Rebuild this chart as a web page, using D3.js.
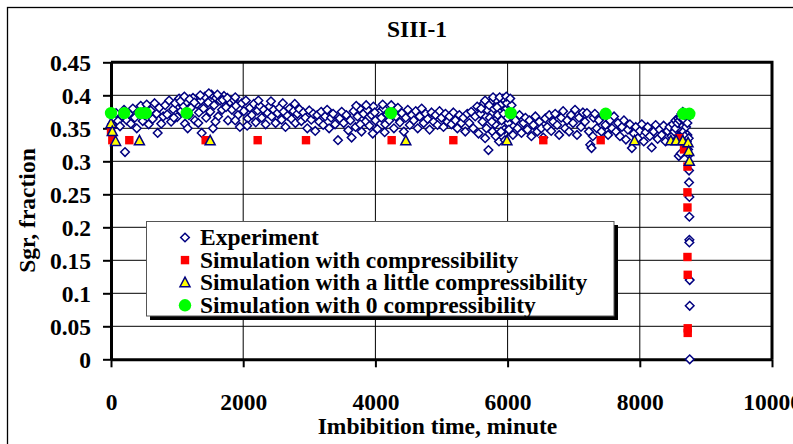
<!DOCTYPE html>
<html>
<head>
<meta charset="utf-8">
<script src="https://cdn.jsdelivr.net/npm/d3@7"></script>
<style>
  body { margin: 0; background: #fff; }
  text { font-family: "Liberation Serif", "Times New Roman", serif; font-weight: bold; font-size: 23.5px; fill: #000; }
</style>
</head>
<body>
<div id="chart"></div>
<script>
var svgWidth = 793;
var svgHeight = 444;

var xTicks = [0, 2000, 4000, 6000, 8000, 10000];
var yTicks = [0, 0.05, 0.1, 0.15, 0.2, 0.25, 0.3, 0.35, 0.4, 0.45];

var legendLabels = [
    "Experiment",
    "Simulation with compressibility",
    "Simulation with a little compressibility",
    "Simulation with 0 compressibility"
];

// experiment: [minute, Sgr]
var experiment = [
    [15,.356],[45,.366],[76,.373],[106,.361],[136,.353],[166,.369],[197,.378],[212,.314],[240,.362],[270,.372],
    [300,.357],[330,.380],[360,.366],[390,.350],[420,.375],[450,.384],[480,.361],[510,.370],[540,.386],[570,.356],
    [600,.377],[630,.364],[660,.388],[690,.372],[706,.343],[730,.381],[760,.357],[790,.368],
    [820,.385],[850,.371],[880,.392],[910,.360],[940,.379],[970,.388],[1000,.367],[1030,.395],[1060,.376],[1090,.384],
    [1120,.357],[1150,.390],[1180,.370],[1210,.381],[1240,.396],[1270,.362],[1300,.387],[1330,.374],[1360,.392],[1372,.343],
    [1400,.380],[1420,.398],[1440,.366],[1470,.389],[1500,.375],[1520,.401],[1543,.350],[1560,.385],[1590,.396],[1620,.368],
    [1650,.392],[1680,.378],[1710,.399],[1740,.382],[1770,.362],[1800,.390],
    [1830,.378],[1860,.393],[1890,.384],[1920,.370],[1950,.352],[1980,.388],[2010,.376],[2040,.392],[2070,.365],[2100,.381],
    [2130,.370],[2160,.387],[2190,.359],[2220,.377],[2250,.384],[2280,.366],[2310,.378],[2340,.356],[2370,.373],[2400,.383],
    [2430,.368],[2460,.378],[2490,.358],[2520,.373],[2550,.381],[2580,.363],[2610,.375],[2640,.352],[2670,.369],[2700,.380],
    [2730,.364],[2760,.376],[2790,.358],[2820,.372],[2850,.379],[2880,.361],[2910,.374],[2940,.366],[2970,.350],[3000,.377],
    [3030,.363],[3060,.372],[3090,.346],[3120,.370],[3150,.360],[3180,.375],[3210,.355],[3240,.368],[3270,.378],[3300,.350],
    [3330,.366],[3360,.372],[3390,.356],[3434,.332],[3460,.365],[3490,.375],[3520,.358],[3560,.370],[3590,.347],
    [3620,.362],[3640,.336],[3670,.376],[3700,.352],[3730,.368],[3760,.380],[3790,.345],[3820,.372],[3850,.360],[3880,.378],
    [3910,.354],[3940,.370],[3970,.383],[4000,.362],[4030,.349],[4060,.374],[4090,.366],[4120,.380],[4150,.356],[4180,.371],
    [4210,.362],[4250,.377],[4280,.350],[4310,.368],[4340,.381],[4370,.359],[4400,.373],[4430,.345],[4460,.366],[4490,.378],
    [4520,.355],[4550,.370],[4580,.362],[4610,.376],[4640,.350],[4670,.368],[4700,.380],[4730,.358],[4760,.372],[4790,.364],
    [4820,.348],[4850,.374],[4880,.360],[4910,.370],[4940,.355],[4970,.376],[5000,.366],[5030,.352],[5060,.372],[5090,.360],
    [5120,.368],[5150,.356],[5180,.374],[5210,.362],[5240,.350],[5270,.370],[5300,.358],[5330,.366],[5360,.345],[5390,.372],
    [5420,.358],[5450,.375],[5480,.350],[5510,.368],[5540,.383],[5560,.342],[5590,.372],[5620,.360],[5640,.388],[5660,.335],
    [5690,.378],[5710,.317],[5730,.366],[5750,.390],[5770,.345],[5790,.380],[5810,.356],[5830,.393],[5850,.370],[5870,.330],
    [5890,.385],[5910,.362],[5930,.395],[5950,.348],[5970,.378],[5990,.388],[6010,.358],[6030,.372],[6060,.385],[6080,.340],
    [6120,.362],[6150,.350],[6180,.370],[6210,.343],[6240,.358],[6270,.366],[6300,.348],[6330,.362],[6360,.338],[6390,.355],
    [6420,.368],[6450,.345],[6480,.360],[6510,.350],[6540,.336],[6570,.365],[6600,.352],[6630,.370],[6660,.346],[6690,.360],
    [6720,.372],[6750,.355],[6780,.340],[6810,.366],[6840,.376],[6870,.350],[6900,.362],[6930,.345],[6960,.370],[6990,.358],
    [7020,.378],[7050,.340],[7080,.366],[7110,.352],[7140,.374],[7170,.360],[7200,.373],[7230,.345],[7250,.325],[7270,.320],
    [7290,.338],[7300,.366],[7320,.372],[7350,.350],[7380,.362],[7420,.345],[7450,.370],[7480,.355],
    [7520,.340],[7550,.362],[7580,.350],[7610,.368],[7640,.345],[7670,.358],[7700,.338],[7730,.352],[7760,.362],[7790,.333],
    [7820,.348],[7850,.356],[7880,.320],[7910,.342],[7940,.352],[7970,.335],[8000,.346],[8030,.356],[8060,.330],[8090,.344],
    [8120,.352],[8150,.338],[8180,.321],[8210,.345],[8240,.355],[8270,.334],[8300,.348],[8330,.340],[8360,.354],[8390,.330],
    [8420,.346],[8450,.352],[8480,.338],[8500,.356],[8520,.345],[8540,.362],[8560,.333],[8580,.365],[8590,.308],[8600,.350],
    [8610,.368],[8620,.340],[8620,.312],[8630,.372],[8640,.355],[8650,.375],[8660,.345],[8670,.370],[8680,.360],[8690,.325],
    [8700,.352],[8710,.365],[8720,.340],[8730,.318],
    // denser parts of the cloud
    [1050,.391],[1110,.398],[1190,.394],[1260,.389],[1350,.400],[1480,.403],[1610,.401],[1690,.393],[1760,.396],[1880,.397],
    [950,.366],[1160,.350],[1320,.358],[1580,.360],[1880,.362],[2060,.354],[2230,.392],[2420,.391],[2600,.388],[2780,.387],
    [3710,.384],[3860,.385],[3990,.374],[4110,.386],[4240,.385],[3770,.356],[3960,.342],[4140,.344],
    [5600,.380],[5660,.392],[5720,.385],[5780,.397],[5840,.382],[5880,.397],[5940,.372],[5980,.398],[6000,.366],[6040,.395],
    [5680,.350],[5760,.360],[5820,.338],[5900,.345],[5960,.332],[6020,.348],
    [8540,.350],[8570,.358],[8600,.362],[8620,.366],[8640,.370],[8660,.364],[8680,.372],[8700,.368],[8720,.358],[8600,.336],
    [8640,.330],[8680,.338],[8710,.330],
    [8740,.335],[8745,.310],[8745,.286],[8745,.268],[8750,.246],[8750,.216],[8750,.181],[8750,.177],[8755,.120],[8755,.081],[8755,0]
];

// simulation with compressibility
var simComp = [
    [0,.345],[20,.332],[277,.332],[1432,.332],[2219,.332],[2950,.332],[4246,.332],[5179,.332],[6540,.332],[7408,.332],
    [8598,.335],[8669,.318],[8721,.292],[8721,.253],[8721,.230],[8721,.155],[8725,.128],[8725,.047],[8725,.040]
];

// simulation with a little compressibility
var simLittle = [
    [0,.357],[20,.345],[70,.330],[430,.331],[1500,.331],[4460,.331],[5990,.331],[7920,.331],
    [8470,.331],[8550,.331],[8650,.331],[8730,.328],[8740,.315],[8750,.300]
];

// simulation with 0 compressibility
var simZero = [
    [0,.373],[200,.373],[450,.373],[525,.373],[1145,.373],[4236,.373],[6047,.373],[7484,.372],[8658,.372],[8749,.372]
];

var svg = d3.select("#chart")
    .append("svg")
    .attr("width", svgWidth)
    .attr("height", svgHeight);

// outer chart frame
svg.append("rect")
    .attr("x", 7.5).attr("y", 7.5)
    .attr("width", 800).attr("height", 450)
    .attr("fill", "none")
    .attr("stroke", "#000")
    .attr("stroke-width", 1.3);

var xScale = d3.scaleLinear().domain([0, 10000]).range([111, 772]);
var yScale = d3.scaleLinear().domain([0, 0.45]).range([359.3, 62.3]);

// gridlines
svg.append("g").selectAll("line")
    .data(yTicks.slice(1, -1))
    .enter().append("line")
    .attr("x1", xScale(0)).attr("x2", xScale(10000))
    .attr("y1", d => yScale(d)).attr("y2", d => yScale(d))
    .attr("stroke", "#000").attr("stroke-width", 1);

svg.append("g").selectAll("line")
    .data(xTicks.slice(1, -1))
    .enter().append("line")
    .attr("y1", yScale(0)).attr("y2", yScale(0.45))
    .attr("x1", d => xScale(d)).attr("x2", d => xScale(d))
    .attr("stroke", "#000").attr("stroke-width", 1);

// top and right border
svg.append("path")
    .attr("d", `M${xScale(0)},${yScale(0.45)}H${xScale(10000)}V${yScale(0)}`)
    .attr("fill", "none").attr("stroke", "#000").attr("stroke-width", 3);

// axes
var bottomAxis = d3.axisBottom(xScale).tickValues(xTicks).tickFormat(d3.format("d"))
    .tickSizeInner(8).tickSizeOuter(0).tickPadding(26);
var leftAxis = d3.axisLeft(yScale).tickValues(yTicks).tickFormat(d => d === 0 ? "0" : String(d))
    .tickSizeInner(8).tickSizeOuter(0).tickPadding(12);

var gx = svg.append("g")
    .attr("transform", `translate(0, ${yScale(0)})`)
    .call(bottomAxis);
var gy = svg.append("g")
    .attr("transform", `translate(${xScale(0)}, 0)`)
    .call(leftAxis);

[gx, gy].forEach(function (g) {
    g.attr("font-family", null).attr("font-size", null);
    g.select(".domain").attr("stroke", "#000").attr("stroke-width", 3);
    g.selectAll(".tick line").attr("stroke", "#000").attr("stroke-width", 2);
    g.selectAll(".tick text").attr("fill", "#000");
});
gy.selectAll(".tick text").attr("dy", "0.34em");

// titles
svg.append("text")
    .attr("x", 417).attr("y", 37)
    .attr("text-anchor", "middle")
    .text("SIII-1");

svg.append("text")
    .attr("x", 437.5).attr("y", 434)
    .attr("text-anchor", "middle")
    .text("Imbibition time, minute");

svg.append("text")
    .attr("transform", "translate(34.5, 210.5) rotate(-90)")
    .attr("text-anchor", "middle")
    .text("Sgr, fraction");

// marker painters
function diamond(g, cx, cy) {
    g.append("path")
        .attr("d", `M${cx},${cy - 4.3}L${cx + 4.3},${cy}L${cx},${cy + 4.3}L${cx - 4.3},${cy}Z`)
        .attr("fill", "#fff").attr("stroke", "#000080").attr("stroke-width", 1.5);
}
function square(g, cx, cy) {
    g.append("rect")
        .attr("x", cx - 4.2).attr("y", cy - 4.2)
        .attr("width", 8.4).attr("height", 8.4)
        .attr("fill", "#ff0000");
}
function triangle(g, cx, cy) {
    g.append("path")
        .attr("d", `M${cx},${cy - 5.5}L${cx + 5},${cy + 4}L${cx - 5},${cy + 4}Z`)
        .attr("fill", "#ffff00").attr("stroke", "#000080").attr("stroke-width", 1.5);
}
function circle(g, cx, cy) {
    g.append("circle")
        .attr("cx", cx).attr("cy", cy).attr("r", 6.2)
        .attr("fill", "#00ff00");
}

var series = [
    { data: experiment, draw: diamond },
    { data: simComp, draw: square },
    { data: simLittle, draw: triangle },
    { data: simZero, draw: circle }
];

var marks = svg.append("g");
series.forEach(function (s) {
    var g = marks.append("g");
    s.data.forEach(function (d) {
        s.draw(g, xScale(d[0]), yScale(d[1]));
    });
});

// legend
var legend = svg.append("g");
legend.append("rect")
    .attr("x", 150).attr("y", 225)
    .attr("width", 468).attr("height", 95)
    .attr("fill", "#000");
legend.append("rect")
    .attr("x", 146.5).attr("y", 221.5)
    .attr("width", 467.5).attr("height", 94.5)
    .attr("fill", "#fff")
    .attr("stroke", "#555").attr("stroke-width", 1);

legendLabels.forEach(function (label, i) {
    var base = 245 + i * 22.6;
    series[i].draw(legend, 185, base - 7.5);
    legend.append("text")
        .attr("x", 200).attr("y", base)
        .text(label);
});
</script>
</body>
</html>
